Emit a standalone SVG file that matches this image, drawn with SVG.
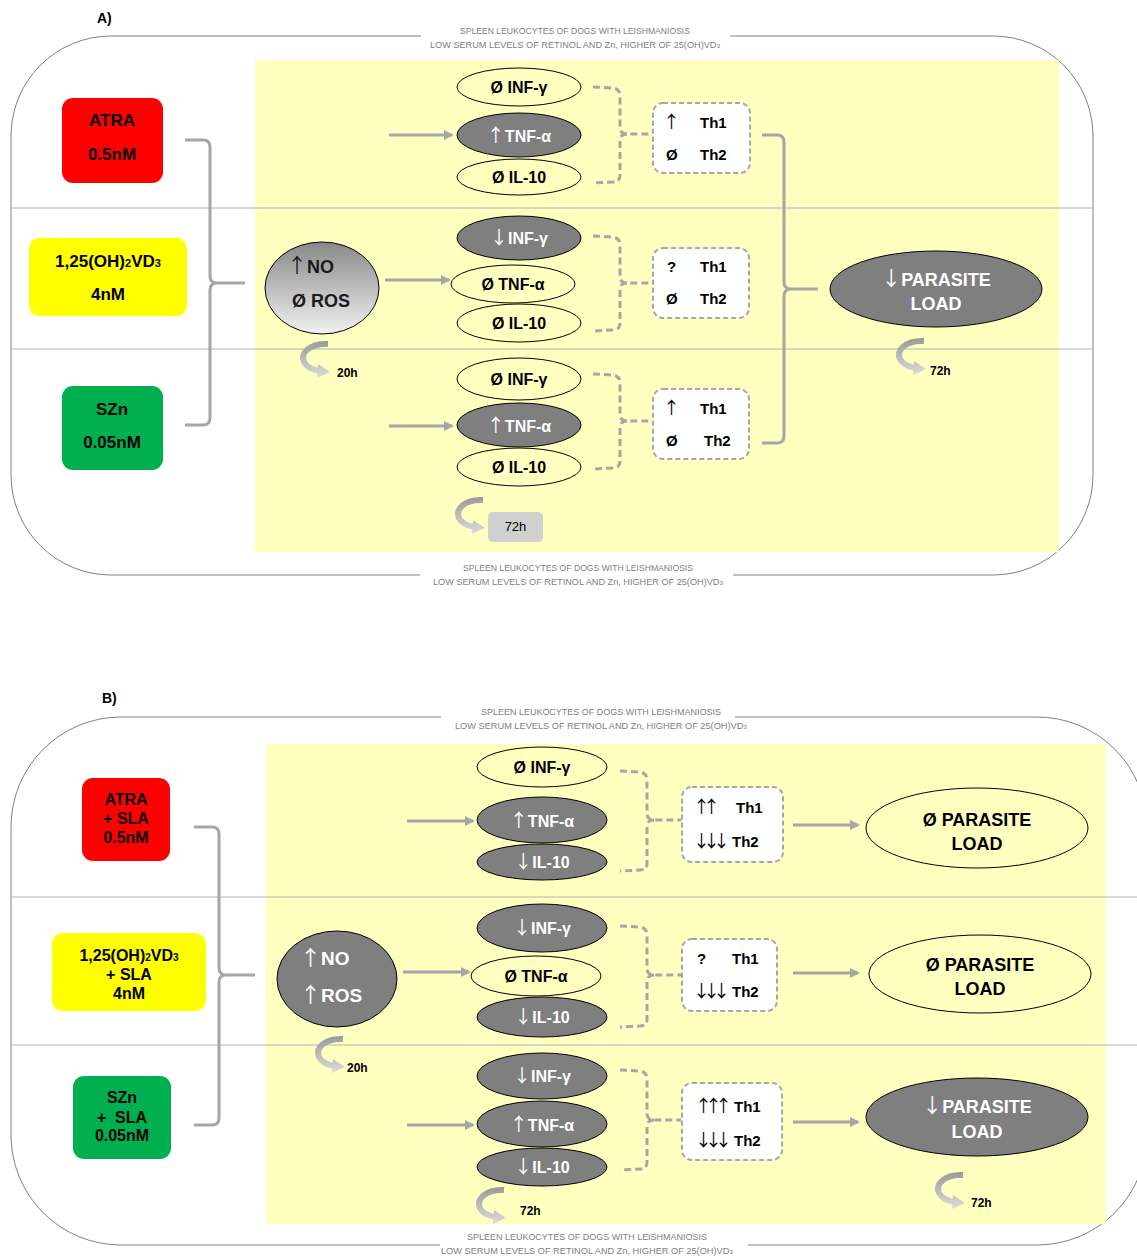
<svg xmlns="http://www.w3.org/2000/svg" width="1137" height="1257" viewBox="0 0 1137 1257">
<defs>
<style>
.t{font-family:"Liberation Sans",Arial,sans-serif;font-weight:bold;}
.ar{font-family:"Noto Sans CJK JP","DejaVu Sans",sans-serif;font-weight:normal}
.hdr{font-family:"Liberation Sans",Arial,sans-serif;font-size:8.5px;fill:#808080;text-anchor:middle}
.frame{fill:none;stroke:#808080;stroke-width:1}
.bg{fill:#ffffc0}
.div{stroke:#b4b4b4;stroke-width:1}
.lt{fill:#ffffc0;stroke:#000;stroke-width:1}
.dk{fill:#7f7f7f;stroke:#000;stroke-width:1}
.ck{font-size:16px;text-anchor:middle}
.w{fill:#fff}
.b{fill:#000}
.th{fill:#fff;stroke:#a6a6a6;stroke-width:2;stroke-dasharray:5,3}
.tht{font-size:15px;fill:#000}
.arr{stroke:#a6a6a6;stroke-width:3;fill:none;marker-end:url(#ah)}
.brace{stroke:#a6a6a6;stroke-width:3;fill:none}
.dash{stroke:#a6a6a6;stroke-width:3;fill:none;stroke-dasharray:7,4}
.pl{font-size:18px;text-anchor:middle}
.drug{font-size:17px;text-anchor:middle;fill:#000}
.drugb{font-size:16px;text-anchor:middle;fill:#000}
.hl{font-size:12px;fill:#000}
.lab{font-size:14px;fill:#000}
</style>
<marker id="ah" viewBox="0 0 10 10" refX="8" refY="5" markerWidth="3.4" markerHeight="3.4" orient="auto"><path d="M0,0 L10,5 L0,10 z" fill="#a6a6a6"/></marker>
<linearGradient id="cg" gradientUnits="userSpaceOnUse" x1="0" y1="0" x2="0" y2="37"><stop offset="0" stop-color="#9a9a9a"/><stop offset="1" stop-color="#dcdcdc"/></linearGradient>
<linearGradient id="nog" x1="0" y1="0" x2="0" y2="1"><stop offset="0" stop-color="#888"/><stop offset="1" stop-color="#f2f2f2"/></linearGradient>
<g id="curl"><path d="M28,3 C10,2 0,12 4,21 C7,27 13,29 19,30" fill="none" stroke="url(#cg)" stroke-width="6"/><polygon points="18,23 30,31 17,37" fill="url(#cg)"/></g>
</defs>
<rect width="1137" height="1257" fill="#fff"/>

<!-- Panel A background -->
<text class="t lab" x="97" y="23">A)</text>
<rect class="frame" x="11" y="36" width="1082" height="539" rx="100" ry="100"/>
<rect x="421" y="26" width="309" height="24" fill="#fff"/>
<rect x="420" y="558" width="313" height="28" fill="#fff"/>
<text class="hdr" x="575" y="34" textLength="230" lengthAdjust="spacingAndGlyphs">SPLEEN LEUKOCYTES OF DOGS WITH LEISHMANIOSIS</text>
<text class="hdr" x="575" y="48" textLength="290" lengthAdjust="spacingAndGlyphs">LOW SERUM LEVELS OF RETINOL AND Zn, HIGHER OF 25(OH)VD<tspan font-size="6">3</tspan></text>
<text class="hdr" x="578" y="571" textLength="230" lengthAdjust="spacingAndGlyphs">SPLEEN LEUKOCYTES OF DOGS WITH LEISHMANIOSIS</text>
<text class="hdr" x="578" y="585" textLength="290" lengthAdjust="spacingAndGlyphs">LOW SERUM LEVELS OF RETINOL AND Zn, HIGHER OF 25(OH)VD<tspan font-size="6">3</tspan></text>
<rect class="bg" x="255" y="60" width="804" height="492"/>
<line class="div" x1="11" y1="208" x2="1093" y2="208"/>
<line class="div" x1="11" y1="349" x2="1093" y2="349"/>

<!-- Panel B background -->
<text class="t lab" x="102" y="703">B)</text>
<rect class="frame" x="11" y="717" width="1136" height="528" rx="110" ry="110"/>
<rect x="441" y="705" width="294" height="25" fill="#fff"/>
<rect x="440" y="1229" width="308" height="28" fill="#fff"/>
<text class="hdr" x="601" y="715" textLength="240" lengthAdjust="spacingAndGlyphs">SPLEEN LEUKOCYTES OF DOGS WITH LEISHMANIOSIS</text>
<text class="hdr" x="601" y="729" textLength="292" lengthAdjust="spacingAndGlyphs">LOW SERUM LEVELS OF RETINOL AND Zn, HIGHER OF 25(OH)VD<tspan font-size="6">3</tspan></text>
<text class="hdr" x="587" y="1240" textLength="240" lengthAdjust="spacingAndGlyphs">SPLEEN LEUKOCYTES OF DOGS WITH LEISHMANIOSIS</text>
<text class="hdr" x="587" y="1254" textLength="292" lengthAdjust="spacingAndGlyphs">LOW SERUM LEVELS OF RETINOL AND Zn, HIGHER OF 25(OH)VD<tspan font-size="6">3</tspan></text>
<rect class="bg" x="266" y="744" width="840" height="480"/>
<line class="div" x1="11" y1="897" x2="1137" y2="897"/>
<line class="div" x1="11" y1="1045" x2="1137" y2="1045"/>

<!-- Connectors -->
<g id="connectors">
  <!-- A -->
  <path class="brace" d="M185,140 L203,140 Q210,140 210,147 L210,276 Q210,283 217,283 L245,283 M217,283 Q210,283 210,290 L210,418 Q210,425 203,425 L185,425"/>
  <line class="arr" x1="389" y1="135" x2="452" y2="135"/>
  <line class="arr" x1="385" y1="280" x2="449" y2="280"/>
  <line class="arr" x1="389" y1="426" x2="452" y2="426"/>
  <path class="dash" d="M593,87 L613,88 Q620,89 620,96 L620,127 Q620,134 627,134 L652,134 M627,134 Q620,134 620,141 L620,175 Q620,182 613,182 L593,183"/>
  <path class="dash" d="M593,236 L613,237 Q620,238 620,245 L620,276 Q620,283 627,283 L652,283 M627,283 Q620,283 620,290 L620,323 Q620,330 613,330 L593,331"/>
  <path class="dash" d="M593,374 L613,375 Q620,376 620,383 L620,414 Q620,421 627,421 L652,421 M627,421 Q620,421 620,428 L620,461 Q620,468 613,468 L593,469"/>
  <path class="brace" d="M762,135 L777,135 Q784,135 784,142 L784,282 Q784,289 791,289 L818,289 M791,289 Q784,289 784,296 L784,436 Q784,443 777,443 L762,443"/>
  <use href="#curl" transform="translate(300,341)"/>
  <use href="#curl" transform="translate(896,338)"/>
  <use href="#curl" transform="translate(455,497)"/>
  <!-- B -->
  <path class="brace" d="M194,827 L212,827 Q219,827 219,834 L219,968 Q219,975 226,975 L255,975 M226,975 Q219,975 219,982 L219,1118 Q219,1125 212,1125 L194,1125"/>
  <line class="arr" x1="407" y1="821" x2="473" y2="821"/>
  <line class="arr" x1="403" y1="972" x2="469" y2="972"/>
  <line class="arr" x1="407" y1="1125" x2="473" y2="1125"/>
  <path class="dash" d="M620,771 L640,772 Q647,773 647,780 L647,813 Q647,820 654,820 L681,820 M654,820 Q647,820 647,827 L647,863 Q647,870 640,870 L620,871"/>
  <path class="dash" d="M620,926 L640,927 Q647,928 647,935 L647,968 Q647,975 654,975 L681,975 M654,975 Q647,975 647,982 L647,1019 Q647,1026 640,1026 L620,1027"/>
  <path class="dash" d="M620,1070 L640,1071 Q647,1072 647,1079 L647,1113 Q647,1120 654,1120 L681,1120 M654,1120 Q647,1120 647,1127 L647,1162 Q647,1169 640,1169 L620,1170"/>
  <line class="arr" x1="793" y1="825" x2="858" y2="825"/>
  <line class="arr" x1="793" y1="973" x2="858" y2="973"/>
  <line class="arr" x1="793" y1="1122" x2="858" y2="1122"/>
  <use href="#curl" transform="translate(315,1036)"/>
  <use href="#curl" transform="translate(476,1187)"/>
  <use href="#curl" transform="translate(935,1172)"/>
</g>

<!-- Panel A nodes -->
<g id="a-atra"><rect x="62" y="98" width="101" height="85" rx="11" fill="#ff0000"/><text class="t drug" x="112" y="126">ATRA</text><text class="t drug" x="112" y="160">0.5nM</text></g>
<g id="a-vd3"><rect x="29" y="238" width="158" height="78" rx="11" fill="#ffff00"/><text class="t drug" x="108" y="267">1,25(OH)<tspan font-size="11">2</tspan>VD<tspan font-size="11">3</tspan></text><text class="t drug" x="108" y="300">4nM</text></g>
<g id="a-szn"><rect x="62" y="386" width="101" height="84" rx="11" fill="#00b050"/><text class="t drug" x="112" y="415">SZn</text><text class="t drug" x="112" y="448">0.05nM</text></g>
<g id="a-noros"><ellipse cx="322" cy="288" rx="57" ry="46" fill="url(#nog)" stroke="#000"/><text class="t" font-size="18" fill="#1a1a1a" x="287" y="273"><tspan class="ar" font-size="20">↑</tspan>NO</text><text class="t" font-size="18" fill="#1a1a1a" x="292" y="307">Ø ROS</text></g>

<g id="a-r1-inf"><ellipse class="lt" cx="519" cy="87" rx="62" ry="19"/><text class="t ck b" x="519" y="93">Ø INF-γ</text></g>
<g id="a-r1-tnf"><ellipse class="dk" cx="519" cy="135" rx="62" ry="22"/><text class="t ck w" x="519" y="142"><tspan class="ar" font-size="18">↑</tspan>TNF-α</text></g>
<g id="a-r1-il"><ellipse class="lt" cx="519" cy="177" rx="62" ry="18"/><text class="t ck b" x="519" y="183">Ø IL-10</text></g>
<g id="a-r1-th"><rect class="th" x="653" y="103" width="97" height="70" rx="10"/><text class="t tht" x="663" y="128"><tspan class="ar" font-size="17">↑</tspan></text><text class="t tht" x="700" y="128">Th1</text><text class="t tht" x="666" y="160">Ø</text><text class="t tht" x="700" y="160">Th2</text></g>

<g id="a-r2-inf"><ellipse class="dk" cx="519" cy="238" rx="62" ry="22"/><text class="t ck w" x="519" y="244"><tspan class="ar" font-size="18">↓</tspan>INF-γ</text></g>
<g id="a-r2-tnf"><ellipse class="lt" cx="513" cy="284" rx="62" ry="19"/><text class="t ck b" x="513" y="290">Ø TNF-α</text></g>
<g id="a-r2-il"><ellipse class="lt" cx="519" cy="323" rx="62" ry="19"/><text class="t ck b" x="519" y="329">Ø IL-10</text></g>
<g id="a-r2-th"><rect class="th" x="653" y="248" width="96" height="70" rx="10"/><text class="t tht" x="667" y="272">?</text><text class="t tht" x="700" y="272">Th1</text><text class="t tht" x="666" y="304">Ø</text><text class="t tht" x="700" y="304">Th2</text></g>

<g id="a-r3-inf"><ellipse class="lt" cx="519" cy="379" rx="62" ry="21"/><text class="t ck b" x="519" y="385">Ø INF-γ</text></g>
<g id="a-r3-tnf"><ellipse class="dk" cx="519" cy="425" rx="62" ry="22"/><text class="t ck w" x="519" y="432"><tspan class="ar" font-size="18">↑</tspan>TNF-α</text></g>
<g id="a-r3-il"><ellipse class="lt" cx="519" cy="467" rx="62" ry="19"/><text class="t ck b" x="519" y="473">Ø IL-10</text></g>
<g id="a-r3-th"><rect class="th" x="653" y="389" width="96" height="70" rx="10"/><text class="t tht" x="663" y="414"><tspan class="ar" font-size="17">↑</tspan></text><text class="t tht" x="700" y="414">Th1</text><text class="t tht" x="666" y="446">Ø</text><text class="t tht" x="704" y="446">Th2</text></g>

<g id="a-parasite"><ellipse class="dk" cx="936" cy="289" rx="106" ry="38"/><text class="t pl w" x="936" y="286"><tspan class="ar" font-size="20">↓</tspan>PARASITE</text><text class="t pl w" x="936" y="310">LOAD</text></g>
<g id="a-72box"><rect x="488" y="512" width="55" height="30" rx="5" fill="#d0d0d0"/><text font-family="Liberation Sans, Arial, sans-serif" font-size="13" x="515.5" y="531" text-anchor="middle" fill="#000">72h</text></g>
<text class="t hl" x="337" y="377">20h</text>
<text class="t hl" x="930" y="375">72h</text>

<!-- Panel B nodes -->
<g id="b-atra"><rect x="82" y="778" width="88" height="83" rx="11" fill="#ff0000"/><text class="t drugb" x="126" y="805">ATRA</text><text class="t drugb" x="126" y="824">+ SLA</text><text class="t drugb" x="126" y="843">0.5nM</text></g>
<g id="b-vd3"><rect x="52" y="933" width="154" height="78" rx="11" fill="#ffff00"/><text class="t drugb" x="129" y="961">1,25(OH)<tspan font-size="10">2</tspan>VD<tspan font-size="10">3</tspan></text><text class="t drugb" x="129" y="980">+ SLA</text><text class="t drugb" x="129" y="999">4nM</text></g>
<g id="b-szn"><rect x="73" y="1076" width="98" height="83" rx="11" fill="#00b050"/><text class="t drugb" x="122" y="1103">SZn</text><text class="t drugb" x="122" y="1123" xml:space="preserve">+  SLA</text><text class="t drugb" x="122" y="1141">0.05nM</text></g>
<g id="b-noros"><ellipse class="dk" cx="337" cy="979" rx="60" ry="48"/><text class="t w" font-size="19" x="300" y="965"><tspan class="ar" font-size="21">↑</tspan>NO</text><text class="t w" font-size="19" x="300" y="1002"><tspan class="ar" font-size="21">↑</tspan>ROS</text></g>

<g id="b-r1-inf"><ellipse class="lt" cx="542" cy="767" rx="65" ry="20"/><text class="t ck b" x="542" y="773">Ø INF-γ</text></g>
<g id="b-r1-tnf"><ellipse class="dk" cx="542" cy="820" rx="65" ry="23"/><text class="t ck w" x="542" y="827"><tspan class="ar" font-size="18">↑</tspan>TNF-α</text></g>
<g id="b-r1-il"><ellipse class="dk" cx="542" cy="862" rx="65" ry="18"/><text class="t ck w" x="542" y="868"><tspan class="ar" font-size="18">↓</tspan>IL-10</text></g>
<g id="b-r1-th"><rect class="th" x="682" y="787" width="101" height="75" rx="10"/><text class="t tht" x="693" y="813"><tspan class="ar" font-size="17" letter-spacing="-7">↑↑</tspan></text><text class="t tht" x="736" y="813">Th1</text><text class="t tht" x="693" y="847"><tspan class="ar" font-size="17" letter-spacing="-7">↓↓↓</tspan><tspan dx="9">Th2</tspan></text></g>
<g id="b-r1-par"><ellipse class="lt" cx="977" cy="828" rx="111" ry="40"/><text class="t pl b" x="977" y="826">Ø PARASITE</text><text class="t pl b" x="977" y="850">LOAD</text></g>

<g id="b-r2-inf"><ellipse class="dk" cx="542" cy="928" rx="65" ry="24"/><text class="t ck w" x="542" y="934"><tspan class="ar" font-size="18">↓</tspan>INF-γ</text></g>
<g id="b-r2-tnf"><ellipse class="lt" cx="536" cy="976" rx="65" ry="20"/><text class="t ck b" x="536" y="982">Ø TNF-α</text></g>
<g id="b-r2-il"><ellipse class="dk" cx="542" cy="1017" rx="65" ry="20"/><text class="t ck w" x="542" y="1023"><tspan class="ar" font-size="18">↓</tspan>IL-10</text></g>
<g id="b-r2-th"><rect class="th" x="682" y="939" width="95" height="72" rx="10"/><text class="t tht" x="697" y="964">?</text><text class="t tht" x="732" y="964">Th1</text><text class="t tht" x="693" y="997"><tspan class="ar" font-size="17" letter-spacing="-7">↓↓↓</tspan><tspan dx="9">Th2</tspan></text></g>
<g id="b-r2-par"><ellipse class="lt" cx="980" cy="974" rx="111" ry="39"/><text class="t pl b" x="980" y="971">Ø PARASITE</text><text class="t pl b" x="980" y="995">LOAD</text></g>

<g id="b-r3-inf"><ellipse class="dk" cx="542" cy="1076" rx="65" ry="23"/><text class="t ck w" x="542" y="1082"><tspan class="ar" font-size="18">↓</tspan>INF-γ</text></g>
<g id="b-r3-tnf"><ellipse class="dk" cx="542" cy="1124" rx="65" ry="23"/><text class="t ck w" x="542" y="1131"><tspan class="ar" font-size="18">↑</tspan>TNF-α</text></g>
<g id="b-r3-il"><ellipse class="dk" cx="542" cy="1167" rx="65" ry="19"/><text class="t ck w" x="542" y="1173"><tspan class="ar" font-size="18">↓</tspan>IL-10</text></g>
<g id="b-r3-th"><rect class="th" x="682" y="1083" width="100" height="77" rx="10"/><text class="t tht" x="695" y="1112"><tspan class="ar" font-size="17" letter-spacing="-7">↑↑↑</tspan><tspan dx="9">Th1</tspan></text><text class="t tht" x="695" y="1146"><tspan class="ar" font-size="17" letter-spacing="-7">↓↓↓</tspan><tspan dx="9">Th2</tspan></text></g>
<g id="b-r3-par"><ellipse class="dk" cx="977" cy="1117" rx="111" ry="39"/><text class="t pl w" x="977" y="1113"><tspan class="ar" font-size="20">↓</tspan>PARASITE</text><text class="t pl w" x="977" y="1138">LOAD</text></g>

<text class="t hl" x="347" y="1072">20h</text>
<text class="t hl" x="520" y="1215">72h</text>
<text class="t hl" x="971" y="1207">72h</text>
</svg>
